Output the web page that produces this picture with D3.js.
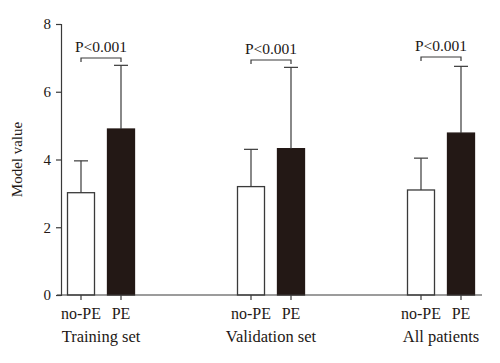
<!DOCTYPE html>
<meta charset="utf-8">
<style>
body { margin: 0; background: #fff; }
text { font-family: "Liberation Serif", "DejaVu Serif", serif; fill: #231815; }
</style>
<body>
<script src="https://d3js.org/d3.v7.min.js"></script>
<script>
// data
var groups = ["Training set", "Validation set", "All patients"];
var subgroups = ["no-PE", "PE"];
var means = [[3.02, 4.90], [3.20, 4.32], [3.10, 4.78]];
var sds = [[3.96, 6.78], [4.30, 6.72], [4.04, 6.75]];
var pLabels = ["P<0.001", "P<0.001", "P<0.001"];
var yTicks = [0, 2, 4, 6, 8];

var width = 500, height = 363;
var barW = 27;

var svg = d3.select("body").append("svg")
    .attr("width", width)
    .attr("height", height);

var y = d3.scaleLinear().domain([0, 8]).range([295, 24]);
var xg = d3.scalePoint().domain(groups).range([101, 441]);
var xs = d3.scalePoint().domain(subgroups).range([-20, 20]);

var lineCol = "#3a3a3a";

// y axis
var yAxis = svg.append("g")
    .attr("transform", "translate(61,0)")
    .call(d3.axisLeft(y).tickValues(yTicks).tickSize(5).tickPadding(5));
yAxis.select(".domain").attr("stroke", lineCol).attr("stroke-width", 1.2);
yAxis.selectAll(".tick line").attr("stroke", lineCol).attr("stroke-width", 1.2);
yAxis.selectAll(".tick text")
    .style("font-family", "Liberation Serif, serif")
    .style("font-size", "15px").attr("fill", "#231815");

// flatten
var rows = [];
groups.forEach(function(g, i) {
  subgroups.forEach(function(s, j) {
    rows.push({group: g, sub: s, mean: means[i][j], top: sds[i][j]});
  });
});

// bars
svg.selectAll("rect.bar")
    .data(rows)
  .enter().append("rect")
    .attr("class", "bar")
    .attr("x", function(d) { return xg(d.group) + xs(d.sub) - barW / 2; })
    .attr("y", function(d) { return y(d.mean); })
    .attr("width", barW)
    .attr("height", function(d) { return y(0) - y(d.mean); })
    .attr("fill", function(d) { return d.sub == "PE" ? "#231815" : "#fff"; })
    .attr("stroke", function(d) { return d.sub == "PE" ? "#231815" : lineCol; })
    .attr("stroke-width", 1.3);

// error bars (upper only)
svg.selectAll("line.err")
    .data(rows)
  .enter().append("line")
    .attr("class", "err")
    .attr("x1", function(d) { return xg(d.group) + xs(d.sub); })
    .attr("x2", function(d) { return xg(d.group) + xs(d.sub); })
    .attr("y1", function(d) { return y(d.mean); })
    .attr("y2", function(d) { return y(d.top); })
    .attr("stroke", lineCol).attr("stroke-width", 1.2);

svg.selectAll("line.cap")
    .data(rows)
  .enter().append("line")
    .attr("class", "cap")
    .attr("x1", function(d) { return xg(d.group) + xs(d.sub) - 7; })
    .attr("x2", function(d) { return xg(d.group) + xs(d.sub) + 7; })
    .attr("y1", function(d) { return y(d.top); })
    .attr("y2", function(d) { return y(d.top); })
    .attr("stroke", lineCol).attr("stroke-width", 1.2);

// x baseline
svg.append("line")
    .attr("x1", 57).attr("x2", 482)
    .attr("y1", y(0)).attr("y2", y(0))
    .attr("stroke", lineCol).attr("stroke-width", 1.2);

// x ticks + labels
svg.selectAll("line.xtick")
    .data(rows)
  .enter().append("line")
    .attr("class", "xtick")
    .attr("x1", function(d) { return xg(d.group) + xs(d.sub); })
    .attr("x2", function(d) { return xg(d.group) + xs(d.sub); })
    .attr("y1", y(0)).attr("y2", y(0) + 5)
    .attr("stroke", lineCol).attr("stroke-width", 1.2);

svg.selectAll("text.sub")
    .data(rows)
  .enter().append("text")
    .attr("class", "sub")
    .attr("x", function(d) { return xg(d.group) + xs(d.sub); })
    .attr("y", 319)
    .attr("text-anchor", "middle")
    .style("font-size", "16px")
    .text(function(d) { return d.sub; });

svg.selectAll("text.grp")
    .data(groups)
  .enter().append("text")
    .attr("class", "grp")
    .attr("x", function(d) { return xg(d); })
    .attr("y", 342)
    .attr("text-anchor", "middle")
    .style("font-size", "16.5px")
    .text(function(d) { return d; });

// significance brackets
var brY = [58, 60, 57];
groups.forEach(function(g, i) {
  var x1 = xg(g) + xs("no-PE"), x2 = xg(g) + xs("PE");
  svg.append("path")
      .attr("d", "M" + x1 + "," + (brY[i] + 4) + "V" + brY[i] + "H" + x2 + "V" + (brY[i] + 4))
      .attr("fill", "none")
      .attr("stroke", lineCol).attr("stroke-width", 1.2);
  svg.append("text")
      .attr("x", (x1 + x2) / 2)
      .attr("y", brY[i] - 6)
      .attr("text-anchor", "middle")
      .style("font-size", "15.5px")
      .text(pLabels[i]);
});

// y label
svg.append("text")
    .attr("transform", "translate(22," + y(4) + ") rotate(-90)")
    .attr("text-anchor", "middle")
    .style("font-size", "15px")
    .text("Model value");
</script>
</body>
